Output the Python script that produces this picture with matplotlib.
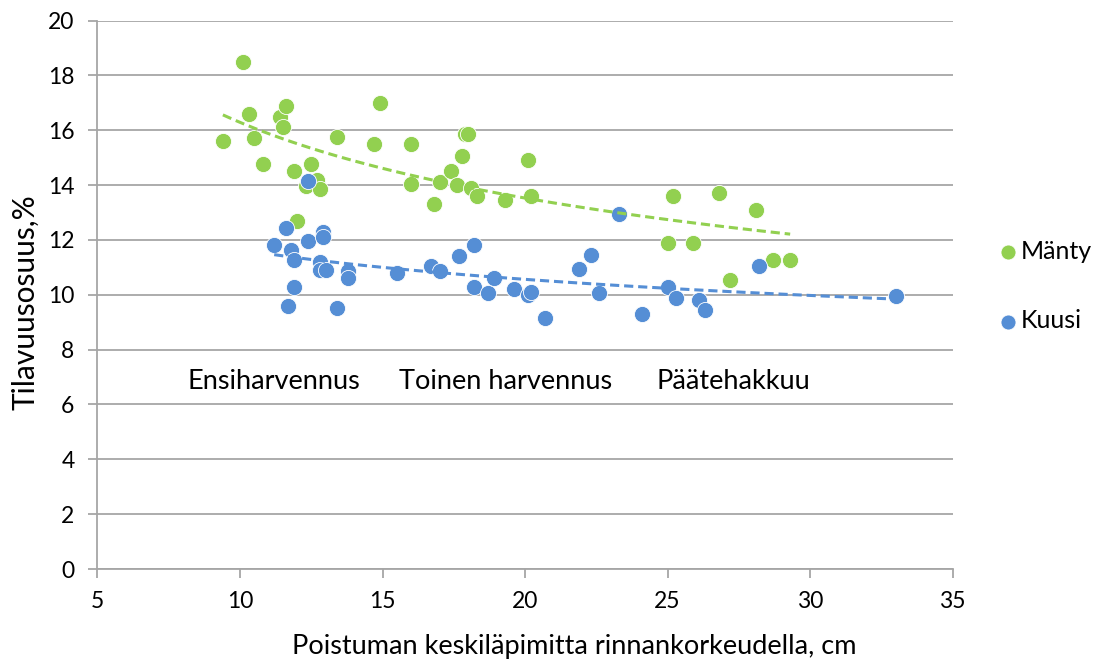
import numpy as np
import matplotlib
matplotlib.use("Agg")
from matplotlib import pyplot as plt

plt.rcParams['font.family'] = ['Lato', 'DejaVu Sans']

# Mänty (pine)
manty_x = [10.1, 9.4, 10.3, 10.5, 10.8, 11.4, 11.6, 11.5, 11.9, 12.0, 12.3, 12.5, 12.7, 12.8,
           13.4, 14.7, 14.9, 16.0, 16.0, 16.8, 17.0, 17.4, 17.6, 17.8, 17.9, 18.0, 18.1, 18.3,
           19.3, 20.1, 20.2, 25.0, 25.2, 25.9, 26.8, 27.2, 28.1, 28.7, 29.3]
manty_y = [18.5, 15.6, 16.6, 15.7, 14.75, 16.5, 16.9, 16.1, 14.5, 12.7, 13.95, 14.75, 14.2, 13.85,
           15.75, 15.5, 17.0, 15.5, 14.05, 13.3, 14.1, 14.5, 14.0, 15.05, 15.85, 15.85, 13.9, 13.6,
           13.45, 14.9, 13.6, 11.9, 13.6, 11.9, 13.7, 10.55, 13.1, 11.25, 11.25]

# Kuusi (spruce)
kuusi_x = [12.4, 11.6, 11.2, 11.8, 11.9, 12.4, 12.9, 12.9, 12.8, 12.8, 13.0, 13.8, 13.8, 11.9,
           11.7, 13.4, 15.5, 16.7, 17.0, 17.7, 18.2, 18.2, 18.7, 18.9, 19.6, 20.1, 20.2, 20.7,
           21.9, 22.3, 22.6, 23.3, 24.1, 25.0, 25.3, 26.1, 26.3, 28.2, 33.0]
kuusi_y = [14.15, 12.45, 11.8, 11.65, 11.25, 11.95, 12.3, 12.1, 11.2, 10.9, 10.9, 10.85, 10.6, 10.3,
           9.6, 9.5, 10.8, 11.05, 10.85, 11.4, 11.8, 10.3, 10.05, 10.6, 10.2, 10.0, 10.1, 9.15,
           10.95, 11.45, 10.05, 12.95, 9.3, 10.3, 9.9, 9.8, 9.45, 11.05, 9.95]

labels = ['Ensiharvennus', 'Toinen harvennus', 'Päätehakkuu']
label_x = [11.2, 19.3, 27.3]

green = '#92D050'
blue = '#558ED5'
grid_c = '#A6A6A6'

fig = plt.figure(figsize=(10.95, 6.66), dpi=100)
ax = fig.add_axes([0.089, 0.1456, 0.781, 0.8236])

ax.scatter(manty_x, manty_y, s=135, color=green, edgecolors='white', linewidths=0.6,
           zorder=3, label='Mänty')
ax.scatter(kuusi_x, kuusi_y, s=135, color=blue, edgecolors='white', linewidths=0.6,
           zorder=3, label='Kuusi')

# power trendlines
for xs, ys, c in [(manty_x, manty_y, green), (kuusi_x, kuusi_y, blue)]:
    xs = np.array(xs)
    ys = np.array(ys)
    b, lna = np.polyfit(np.log(xs), np.log(ys), 1)
    xx = np.linspace(xs.min(), xs.max(), 100)
    ax.plot(xx, np.exp(lna) * xx ** b, color=c, lw=2.2, ls=(0, (3, 1.6)), zorder=4)

ax.set_xlim(5, 35)
ax.set_ylim(0, 20)
ax.set_xticks(range(5, 36, 5))
ax.set_yticks(range(0, 21, 2))
ax.grid(axis='y', color=grid_c, lw=1.3)
ax.set_axisbelow(True)
for s in ['top', 'right']:
    ax.spines[s].set_visible(False)
for s in ['left', 'bottom']:
    ax.spines[s].set_color(grid_c)
    ax.spines[s].set_linewidth(1.3)
ax.tick_params(colors=grid_c, labelcolor='black', labelsize=16.5, length=6.5, width=1.3)
ax.tick_params(axis='x', pad=9)
ax.tick_params(axis='y', pad=10)

ax.set_xlabel('Poistuman keskiläpimitta rinnankorkeudella, cm', fontsize=19.5, va='center')
ax.xaxis.set_label_coords(0.558, -0.142)
ax.set_ylabel('Tilavuusosuus,%', fontsize=21.5, va='center')
ax.yaxis.set_label_coords(-0.0848, 0.487)

for txt, xv in zip(labels, label_x):
    ax.text(xv, 6.85, txt, ha='center', va='center', fontsize=19.5)

fig.legend(handles=ax.collections[:2], labels=['Mänty', 'Kuusi'], loc='center left',
           bbox_to_anchor=(0.909, 0.5706), frameon=False, fontsize=18, borderpad=0,
           borderaxespad=0, handlelength=1.0, handletextpad=0.0, labelspacing=1.85,
           markerscale=0.93)

fig.savefig('out.png', dpi=100)
